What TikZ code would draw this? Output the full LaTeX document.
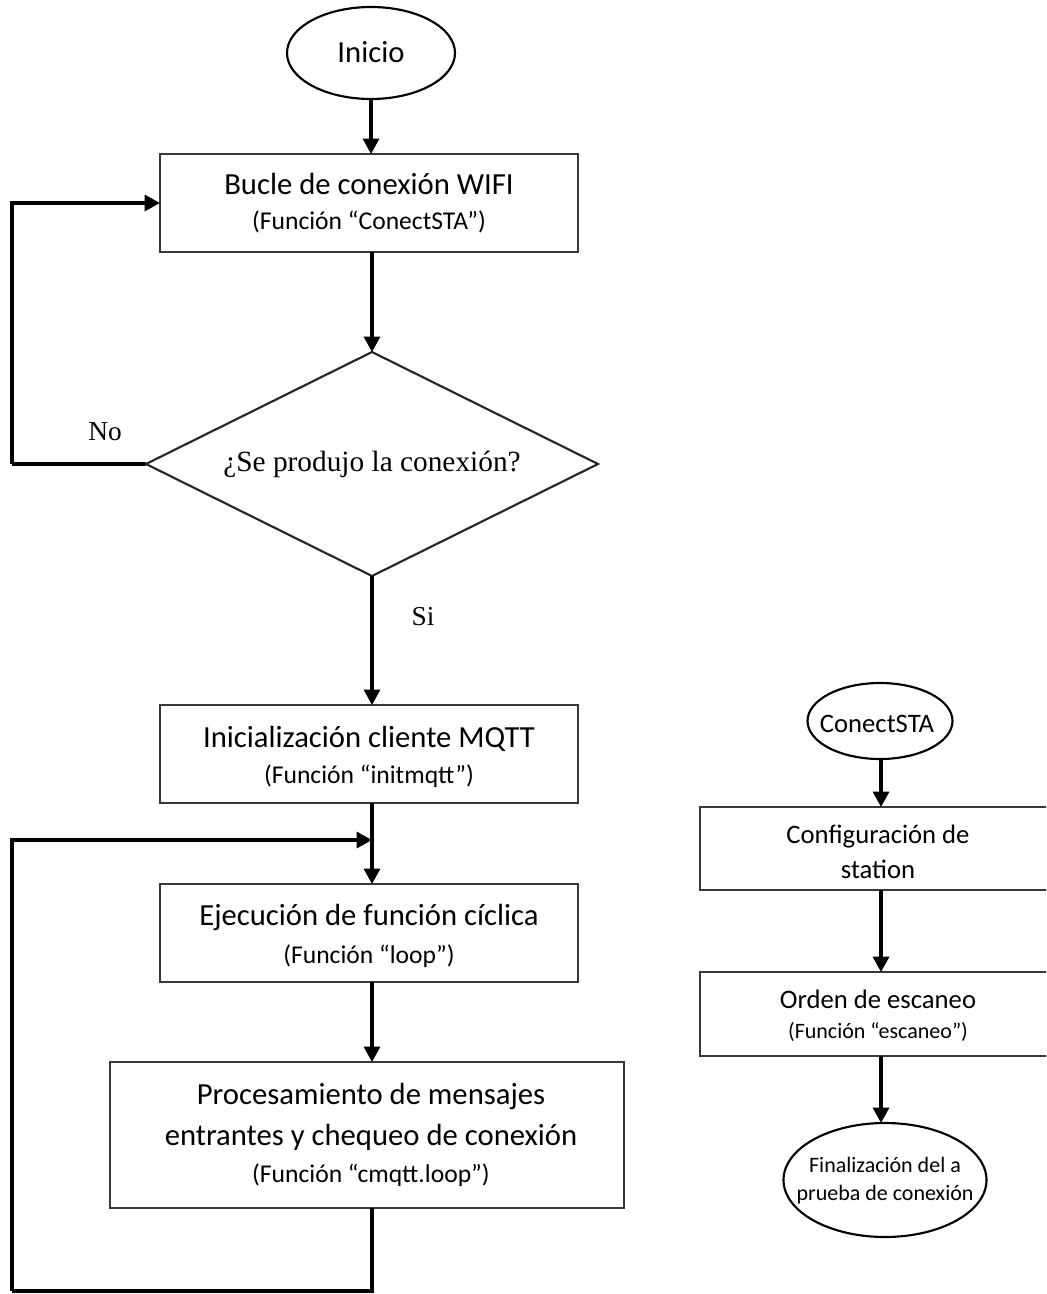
\documentclass[tikz,border=0pt]{standalone}
\usepackage{fontspec}
\setmainfont{Carlito}
\newfontfamily\serifface{Liberation Serif}
\usetikzlibrary{shapes.geometric,arrows.meta}

\begin{document}
\begin{tikzpicture}[x=0.75pt, y=-0.75pt,
  every node/.style={inner sep=0pt, outer sep=0pt},
  stepbox/.style 2 args={rectangle, draw=black!78, line width=1.4pt,
    minimum width=#1*0.75pt, minimum height=#2*0.75pt},
  terminal/.style 2 args={ellipse, draw=black, line width=1.6pt,
    minimum width=#1*0.75pt, minimum height=#2*0.75pt},
  decision/.style={diamond, aspect=2.02, draw=black!85, line width=1.6pt,
    minimum width=452*0.75pt, minimum height=224*0.75pt,
    font=\serifface\fontsize{22}{26}\selectfont},
  ttl/.style={anchor=base, font=\fontsize{23}{27}\selectfont},
  sub/.style={anchor=base, font=\fontsize{19.2}{23}\selectfont},
  rttl/.style={anchor=base, font=\fontsize{20}{24}\selectfont},
  rsub/.style={anchor=base, font=\fontsize{16.5}{20}\selectfont},
  lbl/.style={anchor=base, font=\serifface\fontsize{20.5}{24}\selectfont},
  flow/.style={line width=2.3pt, -{Triangle[length=11.5pt,width=12pt]}},
  plain/.style={line width=2.3pt}
]
\useasboundingbox (0,0) rectangle (1046,1294);
\clip (0,0) rectangle (1046,1294);

% ---------- main flow ----------
\node[terminal={168}{92}] (inicio) at (371,53) {};
\node[ttl] (inicioT) at (371,63) {Inicio};

\node[stepbox={418}{98}] (bucle) at (369,203) {};
\node[ttl] (bucleT) at (369,195) {Bucle de conexión WIFI};
\node[sub] (bucleS) at (369,230) {(Función “ConectSTA”)};

\node[decision] (cond) at (372,464) {¿Se produjo la conexión?};
\node[lbl] (nolbl) at (105,440) {No};
\node[lbl] (silbl) at (423,625) {Si};

\node[stepbox={418}{98}] (mqtt) at (369,754) {};
\node[ttl] (mqttT) at (369,747) {Inicialización cliente MQTT};
\node[sub] (mqttS) at (369,783) {(Función “initmqtt”)};

\node[stepbox={418}{98}] (ejec) at (369,933) {};
\node[ttl] (ejecT) at (369,925) {Ejecución de función cíclica};
\node[sub] (ejecS) at (369,963) {(Función “loop”)};

\node[stepbox={514}{146}] (proc) at (367,1135) {};
\node[ttl] (procA) at (371,1104) {Procesamiento de mensajes};
\node[ttl] (procB) at (371,1145) {entrantes y chequeo de conexión};
\node[sub] (procS) at (371,1182) {(Función “cmqtt.loop”)};

% loop corners
\coordinate (noturn) at (12,464);
\coordinate (bottomturn) at (12,1291);
\coordinate (joint) at (372,840);

\draw[flow] (inicio.south) -- (bucle.north -| inicio.south);
\draw[flow] (bucle.south -| cond.north) -- (cond.north);
\draw[plain] (cond.west) -- (noturn);
\draw[flow] (noturn) |- (bucle.west);
\draw[flow] (cond.south) -- (cond.south |- mqtt.north);
\draw[flow] (mqtt.south -| joint) -- (ejec.north -| joint);
\draw[flow] (ejec.south -| joint) -- (proc.north -| joint);
\draw[plain] (proc.south -| joint) |- (bottomturn);
\draw[flow] (bottomturn) |- (joint);

% ---------- ConectSTA routine ----------
\node[terminal={145}{76}] (cst) at (880,721) {};
\node[rttl] (cstT) at (877,732) {ConectSTA};

\node[stepbox={370}{83}] (conf) at (885,848.5) {};
\node[rttl] (confA) at (878,843) {Configuración de};
\node[rttl] (confB) at (878,878) {station};

\node[stepbox={370}{84}] (scan) at (885,1014) {};
\node[rttl] (scanT) at (878,1008) {Orden de escaneo};
\node[rsub] (scanS) at (878,1038) {(Función “escaneo”)};

\node[terminal={203}{114}] (fin) at (885,1180) {};
\node[rsub] (finA) at (885,1172) {Finalización del a};
\node[rsub] (finB) at (885,1200) {prueba de conexión};

\coordinate (rcol) at (881,0);
\draw[flow] (cst.south -| rcol) -- (conf.north -| rcol);
\draw[flow] (conf.south -| rcol) -- (scan.north -| rcol);
\draw[flow] (scan.south -| rcol) -- (fin.north -| rcol);
\end{tikzpicture}
\end{document}
